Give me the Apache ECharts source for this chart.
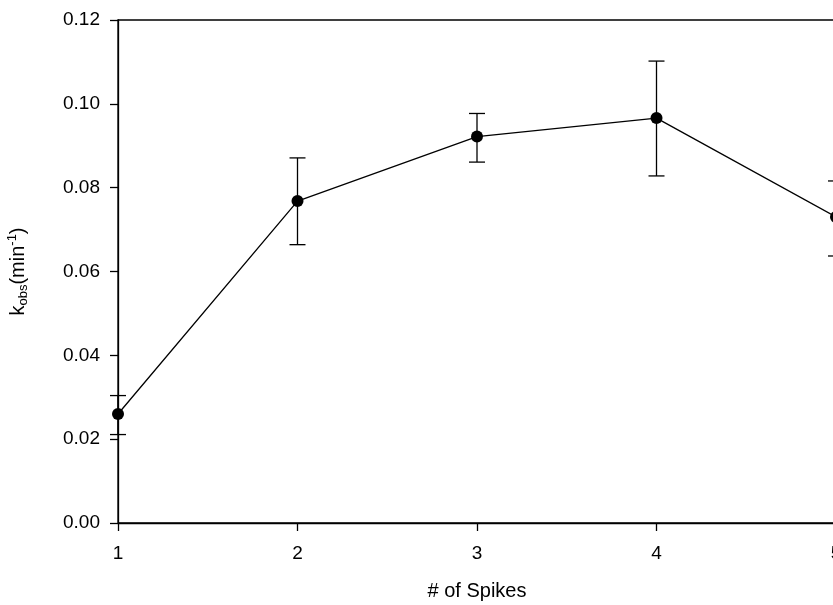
<!DOCTYPE html>
<html>
<head>
<meta charset="utf-8">
<script src="https://cdn.jsdelivr.net/npm/echarts@6/dist/echarts.min.js"></script>
<style>
html, body { margin: 0; padding: 0; background: #fff; }
#chart { width: 833px; height: 605px; }
</style>
</head>
<body>
<div id="chart"></div>
<script>
// data
const spikes = [1, 2, 3, 4, 5];
const kobs = [0.0260, 0.0768, 0.0922, 0.0966, 0.0730];
const errUpper = [0.0304, 0.0871, 0.0977, 0.1102, 0.0816];
const errLower = [0.0211, 0.0664, 0.0861, 0.0828, 0.0637];
const yTicks = [0, 0.02, 0.04, 0.06, 0.08, 0.10, 0.12];

const font = 'Liberation Sans, Arial, sans-serif';

const chart = echarts.init(document.getElementById('chart'));

const meanData = spikes.map((x, i) => [x, kobs[i]]);
const errData = spikes.map((x, i) => [x, errLower[i], errUpper[i]]);

// 误差棒
function renderErr(params, api) {
    const x = api.value(0);
    const lo = api.coord([x, api.value(1)]);
    const hi = api.coord([x, api.value(2)]);
    const w = 8;
    const style = { stroke: '#000', lineWidth: 1.3, fill: null };
    return {
        type: 'group',
        children: [
            { type: 'line', shape: { x1: lo[0], y1: lo[1], x2: hi[0], y2: hi[1] }, style: style },
            { type: 'line', shape: { x1: hi[0] - w, y1: hi[1], x2: hi[0] + w, y2: hi[1] }, style: style },
            { type: 'line', shape: { x1: lo[0] - w, y1: lo[1], x2: lo[0] + w, y2: lo[1] }, style: style }
        ]
    };
}

const option = {
    animation: false,
    backgroundColor: '#fff',
    grid: {
        left: 118, top: 20, right: -3, bottom: 82,
        outerBoundsMode: 'none',
        show: true, borderColor: '#000', borderWidth: 1.3
    },
    xAxis: {
        type: 'value',
        min: 1, max: 5, interval: 1,
        name: '# of Spikes',
        nameLocation: 'middle',
        nameGap: 58,
        nameTextStyle: { fontFamily: font, fontSize: 20, color: '#000' },
        axisLine: { lineStyle: { color: '#000', width: 1.3 } },
        axisTick: { show: true, length: 8, lineStyle: { color: '#000', width: 1.3 } },
        axisLabel: { fontFamily: font, fontSize: 19, color: '#000', margin: 21 },
        splitLine: { show: false }
    },
    yAxis: {
        type: 'value',
        min: 0, max: 0.12, interval: 0.02,
        name: '{k|k}{sub|obs}{k|(min}{sup|-1}{k|)}',
        nameLocation: 'middle',
        nameGap: 88,
        nameRotate: 90,
        nameTextStyle: {
            fontFamily: font, color: '#000',
            rich: {
                k: { fontFamily: font, fontSize: 20, color: '#000', lineHeight: 24 },
                sub: { fontFamily: font, fontSize: 13, color: '#000', verticalAlign: 'bottom', lineHeight: 24, padding: [8, 0, 0, 0] },
                sup: { fontFamily: font, fontSize: 13, color: '#000', verticalAlign: 'top', lineHeight: 24, padding: [0, 0, 8, 0] }
            }
        },
        axisLine: { show: true, lineStyle: { color: '#000', width: 1.3 } },
        axisTick: { show: true, length: 8, lineStyle: { color: '#000', width: 1.3 } },
        axisLabel: {
            fontFamily: font, fontSize: 19, color: '#000', margin: 18,
            formatter: v => v.toFixed(2)
        },
        splitLine: { show: false }
    },
    series: [
        {
            type: 'custom',
            renderItem: renderErr,
            data: errData,
            encode: { x: 0, y: [1, 2] },
            clip: false,
            z: 2
        },
        {
            type: 'line',
            data: meanData,
            symbol: 'circle',
            symbolSize: 12,
            itemStyle: { color: '#000' },
            lineStyle: { color: '#000', width: 1.3 },
            clip: false,
            z: 3
        }
    ]
};

chart.setOption(option);
</script>
</body>
</html>
